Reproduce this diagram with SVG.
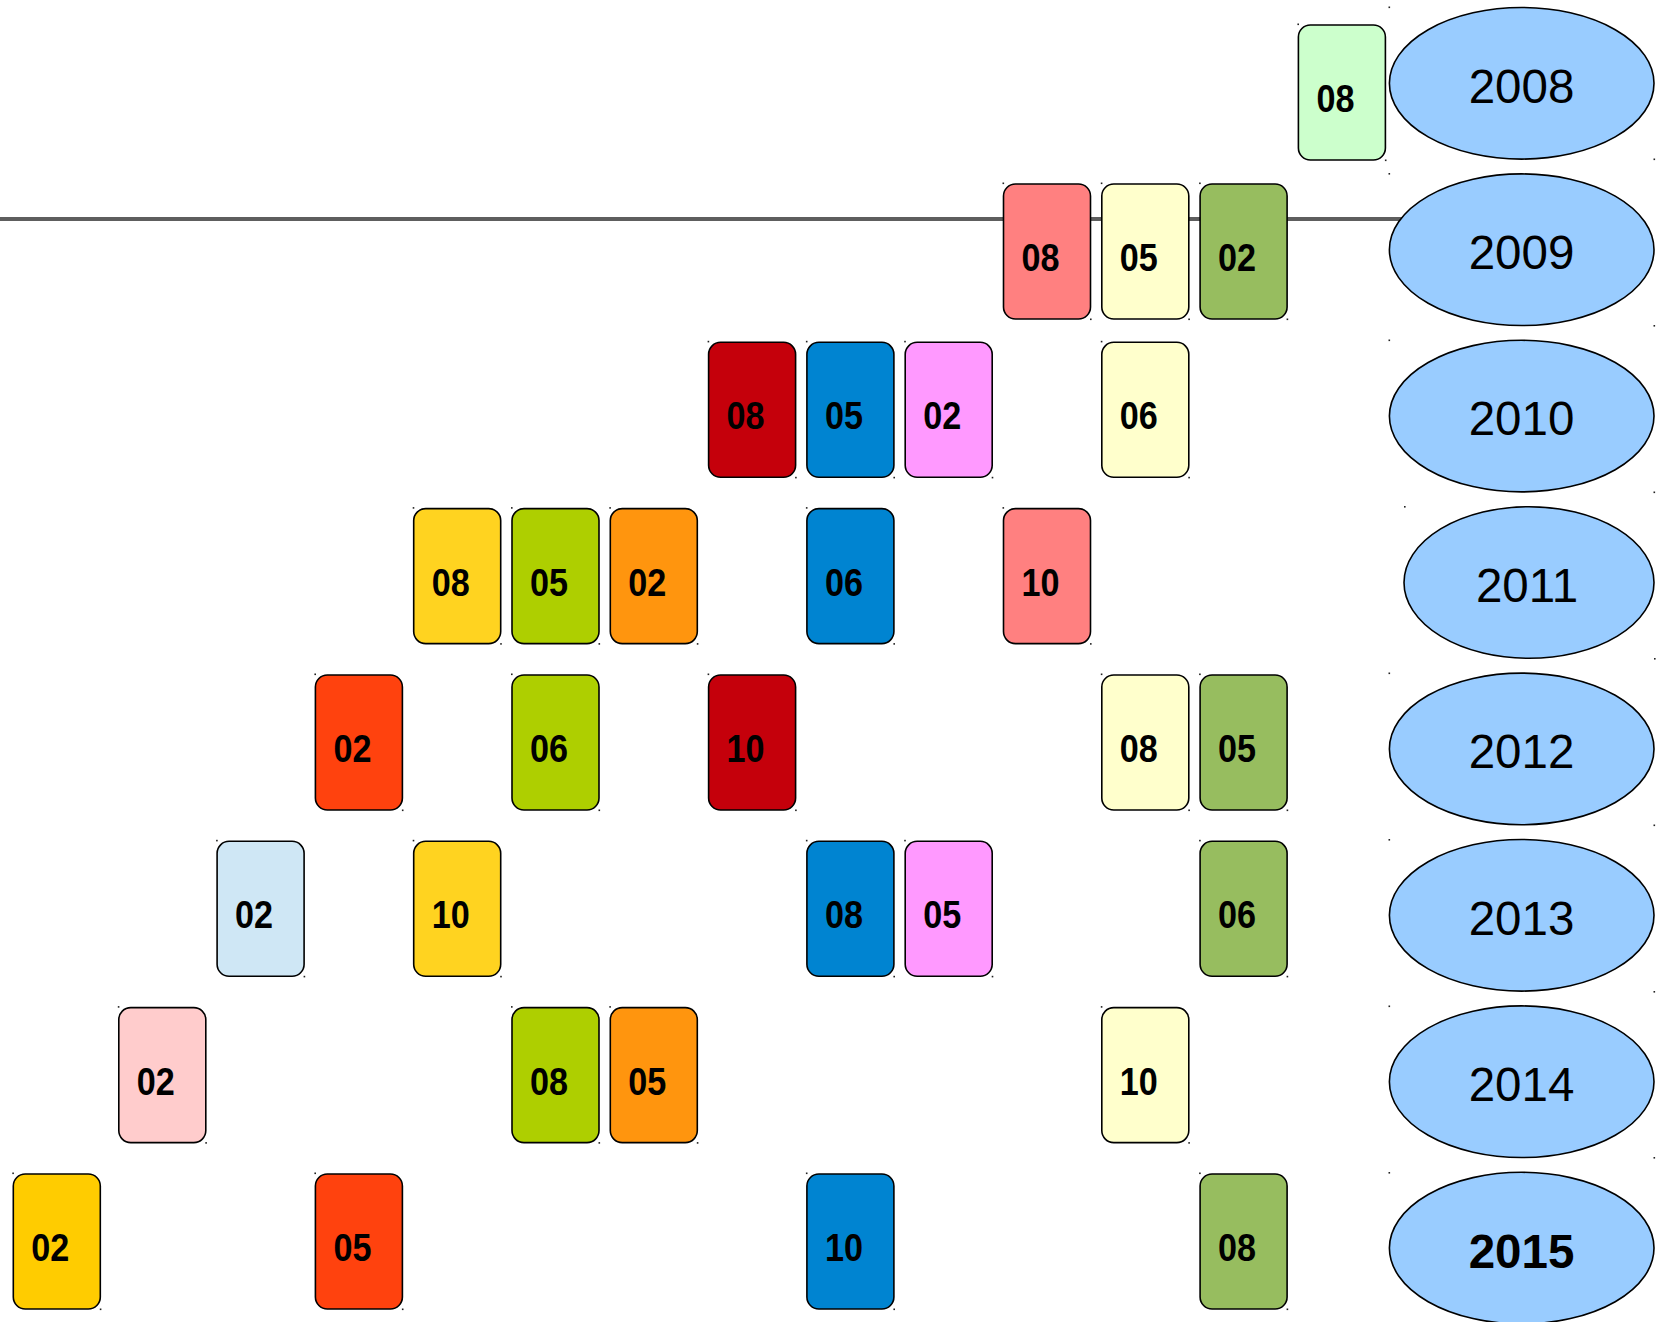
<svg xmlns="http://www.w3.org/2000/svg" width="1665" height="1322" viewBox="0 0 1665 1322">
<style>
.card{stroke:#000;stroke-width:1.6}
.lbl{font-family:"Liberation Sans",Arial,sans-serif;font-weight:bold;font-size:38.5px;text-anchor:middle;fill:#000}
.yr{fill:#99ccff;stroke:#000;stroke-width:1.6}
.ytxt{font-family:"Liberation Sans",Arial,sans-serif;font-size:47.5px;text-anchor:middle;fill:#000}
.dot{fill:#222}
.conn{stroke:#5e5e5e;stroke-width:3.8;fill:none}
.c1{fill:#ccffcc}.c2{fill:#ff8080}.c3{fill:#ffffcc}.c4{fill:#97bd5f}
.c5{fill:#c5000b}.c6{fill:#0084d1}.c7{fill:#ff99ff}.c8{fill:#ffd320}
.c9{fill:#aecf00}.c10{fill:#ff950e}.c11{fill:#ff420e}.c12{fill:#cfe7f5}
.c13{fill:#ffcccc}.c14{fill:#ffcc00}
</style>
<rect width="1665" height="1322" fill="#fff"/>
<g id="connectors">
<line class="conn" x1="0" y1="219" x2="1402" y2="219"/>
</g>

<g id="y2008"><ellipse class="yr" cx="1521.7" cy="83.3" rx="132.3" ry="75.8"/><text class="ytxt" x="1521.5" y="102.6">2008</text><rect class="dot" x="1388.5" y="6.5" width="1.6" height="1.6"/><rect class="dot" x="1653.5" y="158.5" width="1.6" height="1.6"/></g>
<g id="y2009"><ellipse class="yr" cx="1521.7" cy="249.7" rx="132.3" ry="75.8"/><text class="ytxt" x="1521.5" y="269">2009</text><rect class="dot" x="1388.5" y="173" width="1.6" height="1.6"/><rect class="dot" x="1653.5" y="325" width="1.6" height="1.6"/></g>
<g id="y2010"><ellipse class="yr" cx="1521.7" cy="416.1" rx="132.3" ry="75.8"/><text class="ytxt" x="1521.5" y="435.4">2010</text><rect class="dot" x="1388.5" y="339.5" width="1.6" height="1.6"/><rect class="dot" x="1653.5" y="491.5" width="1.6" height="1.6"/></g>
<g id="y2011"><ellipse class="yr" cx="1529" cy="582.5" rx="125" ry="75.8"/><text class="ytxt" x="1527" y="601.7">2011</text><rect class="dot" x="1404" y="506" width="1.6" height="1.6"/><rect class="dot" x="1654" y="658" width="1.6" height="1.6"/></g>
<g id="y2012"><ellipse class="yr" cx="1521.7" cy="748.9" rx="132.3" ry="75.8"/><text class="ytxt" x="1521.5" y="768.2">2012</text><rect class="dot" x="1388.5" y="672.5" width="1.6" height="1.6"/><rect class="dot" x="1653.5" y="824.5" width="1.6" height="1.6"/></g>
<g id="y2013"><ellipse class="yr" cx="1521.7" cy="915.3" rx="132.3" ry="75.8"/><text class="ytxt" x="1521.5" y="934.6">2013</text><rect class="dot" x="1388.5" y="839" width="1.6" height="1.6"/><rect class="dot" x="1653.5" y="991" width="1.6" height="1.6"/></g>
<g id="y2014"><ellipse class="yr" cx="1521.7" cy="1081.7" rx="132.3" ry="75.8"/><text class="ytxt" x="1521.5" y="1101">2014</text><rect class="dot" x="1388.5" y="1005.5" width="1.6" height="1.6"/><rect class="dot" x="1653.5" y="1157" width="1.6" height="1.6"/></g>
<g id="y2015"><ellipse class="yr" cx="1521.7" cy="1248.1" rx="132.3" ry="75.8"/><text class="ytxt" x="1521.5" y="1267.8" font-weight="bold">2015</text><rect class="dot" x="1388.5" y="1172" width="1.6" height="1.6"/></g>

<g id="r2008_08" transform="translate(1298.4,25)"><rect class="card c1" width="87" height="135" rx="12"/><text class="lbl" x="37" y="87" textLength="38" lengthAdjust="spacingAndGlyphs">08</text><rect class="dot" x="-1" y="-1.5" width="1.6" height="1.6"/><rect class="dot" x="86.5" y="134.5" width="1.6" height="1.6"/></g>

<g id="r2009_08" transform="translate(1003.5,184)"><rect class="card c2" width="87" height="135" rx="12"/><text class="lbl" x="37" y="87" textLength="38" lengthAdjust="spacingAndGlyphs">08</text><rect class="dot" x="-1" y="-1.5" width="1.6" height="1.6"/><rect class="dot" x="86.5" y="134.5" width="1.6" height="1.6"/></g>
<g id="r2009_05" transform="translate(1101.8,184)"><rect class="card c3" width="87" height="135" rx="12"/><text class="lbl" x="37" y="87" textLength="38" lengthAdjust="spacingAndGlyphs">05</text><rect class="dot" x="-1" y="-1.5" width="1.6" height="1.6"/><rect class="dot" x="86.5" y="134.5" width="1.6" height="1.6"/></g>
<g id="r2009_02" transform="translate(1200.1,184)"><rect class="card c4" width="87" height="135" rx="12"/><text class="lbl" x="37" y="87" textLength="38" lengthAdjust="spacingAndGlyphs">02</text><rect class="dot" x="-1" y="-1.5" width="1.6" height="1.6"/><rect class="dot" x="86.5" y="134.5" width="1.6" height="1.6"/></g>

<g id="r2010_08" transform="translate(708.6,342.3)"><rect class="card c5" width="87" height="135" rx="12"/><text class="lbl" x="37" y="87" textLength="38" lengthAdjust="spacingAndGlyphs">08</text><rect class="dot" x="-1" y="-1.5" width="1.6" height="1.6"/><rect class="dot" x="86.5" y="134.5" width="1.6" height="1.6"/></g>
<g id="r2010_05" transform="translate(806.9,342.3)"><rect class="card c6" width="87" height="135" rx="12"/><text class="lbl" x="37" y="87" textLength="38" lengthAdjust="spacingAndGlyphs">05</text><rect class="dot" x="-1" y="-1.5" width="1.6" height="1.6"/><rect class="dot" x="86.5" y="134.5" width="1.6" height="1.6"/></g>
<g id="r2010_02" transform="translate(905.2,342.3)"><rect class="card c7" width="87" height="135" rx="12"/><text class="lbl" x="37" y="87" textLength="38" lengthAdjust="spacingAndGlyphs">02</text><rect class="dot" x="-1" y="-1.5" width="1.6" height="1.6"/><rect class="dot" x="86.5" y="134.5" width="1.6" height="1.6"/></g>
<g id="r2010_06" transform="translate(1101.8,342.3)"><rect class="card c3" width="87" height="135" rx="12"/><text class="lbl" x="37" y="87" textLength="38" lengthAdjust="spacingAndGlyphs">06</text><rect class="dot" x="-1" y="-1.5" width="1.6" height="1.6"/><rect class="dot" x="86.5" y="134.5" width="1.6" height="1.6"/></g>

<g id="r2011_08" transform="translate(413.7,508.6)"><rect class="card c8" width="87" height="135" rx="12"/><text class="lbl" x="37" y="87" textLength="38" lengthAdjust="spacingAndGlyphs">08</text><rect class="dot" x="-1" y="-1.5" width="1.6" height="1.6"/><rect class="dot" x="86.5" y="134.5" width="1.6" height="1.6"/></g>
<g id="r2011_05" transform="translate(512,508.6)"><rect class="card c9" width="87" height="135" rx="12"/><text class="lbl" x="37" y="87" textLength="38" lengthAdjust="spacingAndGlyphs">05</text><rect class="dot" x="-1" y="-1.5" width="1.6" height="1.6"/><rect class="dot" x="86.5" y="134.5" width="1.6" height="1.6"/></g>
<g id="r2011_02" transform="translate(610.3,508.6)"><rect class="card c10" width="87" height="135" rx="12"/><text class="lbl" x="37" y="87" textLength="38" lengthAdjust="spacingAndGlyphs">02</text><rect class="dot" x="-1" y="-1.5" width="1.6" height="1.6"/><rect class="dot" x="86.5" y="134.5" width="1.6" height="1.6"/></g>
<g id="r2011_06" transform="translate(806.9,508.6)"><rect class="card c6" width="87" height="135" rx="12"/><text class="lbl" x="37" y="87" textLength="38" lengthAdjust="spacingAndGlyphs">06</text><rect class="dot" x="-1" y="-1.5" width="1.6" height="1.6"/><rect class="dot" x="86.5" y="134.5" width="1.6" height="1.6"/></g>
<g id="r2011_10" transform="translate(1003.5,508.6)"><rect class="card c2" width="87" height="135" rx="12"/><text class="lbl" x="37" y="87" textLength="38" lengthAdjust="spacingAndGlyphs">10</text><rect class="dot" x="-1" y="-1.5" width="1.6" height="1.6"/><rect class="dot" x="86.5" y="134.5" width="1.6" height="1.6"/></g>

<g id="r2012_02" transform="translate(315.4,675)"><rect class="card c11" width="87" height="135" rx="12"/><text class="lbl" x="37" y="87" textLength="38" lengthAdjust="spacingAndGlyphs">02</text><rect class="dot" x="-1" y="-1.5" width="1.6" height="1.6"/><rect class="dot" x="86.5" y="134.5" width="1.6" height="1.6"/></g>
<g id="r2012_06" transform="translate(512,675)"><rect class="card c9" width="87" height="135" rx="12"/><text class="lbl" x="37" y="87" textLength="38" lengthAdjust="spacingAndGlyphs">06</text><rect class="dot" x="-1" y="-1.5" width="1.6" height="1.6"/><rect class="dot" x="86.5" y="134.5" width="1.6" height="1.6"/></g>
<g id="r2012_10" transform="translate(708.6,675)"><rect class="card c5" width="87" height="135" rx="12"/><text class="lbl" x="37" y="87" textLength="38" lengthAdjust="spacingAndGlyphs">10</text><rect class="dot" x="-1" y="-1.5" width="1.6" height="1.6"/><rect class="dot" x="86.5" y="134.5" width="1.6" height="1.6"/></g>
<g id="r2012_08" transform="translate(1101.8,675)"><rect class="card c3" width="87" height="135" rx="12"/><text class="lbl" x="37" y="87" textLength="38" lengthAdjust="spacingAndGlyphs">08</text><rect class="dot" x="-1" y="-1.5" width="1.6" height="1.6"/><rect class="dot" x="86.5" y="134.5" width="1.6" height="1.6"/></g>
<g id="r2012_05" transform="translate(1200.1,675)"><rect class="card c4" width="87" height="135" rx="12"/><text class="lbl" x="37" y="87" textLength="38" lengthAdjust="spacingAndGlyphs">05</text><rect class="dot" x="-1" y="-1.5" width="1.6" height="1.6"/><rect class="dot" x="86.5" y="134.5" width="1.6" height="1.6"/></g>

<g id="r2013_02" transform="translate(217.1,841.3)"><rect class="card c12" width="87" height="135" rx="12"/><text class="lbl" x="37" y="87" textLength="38" lengthAdjust="spacingAndGlyphs">02</text><rect class="dot" x="-1" y="-1.5" width="1.6" height="1.6"/><rect class="dot" x="86.5" y="134.5" width="1.6" height="1.6"/></g>
<g id="r2013_10" transform="translate(413.7,841.3)"><rect class="card c8" width="87" height="135" rx="12"/><text class="lbl" x="37" y="87" textLength="38" lengthAdjust="spacingAndGlyphs">10</text><rect class="dot" x="-1" y="-1.5" width="1.6" height="1.6"/><rect class="dot" x="86.5" y="134.5" width="1.6" height="1.6"/></g>
<g id="r2013_08" transform="translate(806.9,841.3)"><rect class="card c6" width="87" height="135" rx="12"/><text class="lbl" x="37" y="87" textLength="38" lengthAdjust="spacingAndGlyphs">08</text><rect class="dot" x="-1" y="-1.5" width="1.6" height="1.6"/><rect class="dot" x="86.5" y="134.5" width="1.6" height="1.6"/></g>
<g id="r2013_05" transform="translate(905.2,841.3)"><rect class="card c7" width="87" height="135" rx="12"/><text class="lbl" x="37" y="87" textLength="38" lengthAdjust="spacingAndGlyphs">05</text><rect class="dot" x="-1" y="-1.5" width="1.6" height="1.6"/><rect class="dot" x="86.5" y="134.5" width="1.6" height="1.6"/></g>
<g id="r2013_06" transform="translate(1200.1,841.3)"><rect class="card c4" width="87" height="135" rx="12"/><text class="lbl" x="37" y="87" textLength="38" lengthAdjust="spacingAndGlyphs">06</text><rect class="dot" x="-1" y="-1.5" width="1.6" height="1.6"/><rect class="dot" x="86.5" y="134.5" width="1.6" height="1.6"/></g>

<g id="r2014_02" transform="translate(118.8,1007.6)"><rect class="card c13" width="87" height="135" rx="12"/><text class="lbl" x="37" y="87" textLength="38" lengthAdjust="spacingAndGlyphs">02</text><rect class="dot" x="-1" y="-1.5" width="1.6" height="1.6"/><rect class="dot" x="86.5" y="134.5" width="1.6" height="1.6"/></g>
<g id="r2014_08" transform="translate(512,1007.6)"><rect class="card c9" width="87" height="135" rx="12"/><text class="lbl" x="37" y="87" textLength="38" lengthAdjust="spacingAndGlyphs">08</text><rect class="dot" x="-1" y="-1.5" width="1.6" height="1.6"/><rect class="dot" x="86.5" y="134.5" width="1.6" height="1.6"/></g>
<g id="r2014_05" transform="translate(610.3,1007.6)"><rect class="card c10" width="87" height="135" rx="12"/><text class="lbl" x="37" y="87" textLength="38" lengthAdjust="spacingAndGlyphs">05</text><rect class="dot" x="-1" y="-1.5" width="1.6" height="1.6"/><rect class="dot" x="86.5" y="134.5" width="1.6" height="1.6"/></g>
<g id="r2014_10" transform="translate(1101.8,1007.6)"><rect class="card c3" width="87" height="135" rx="12"/><text class="lbl" x="37" y="87" textLength="38" lengthAdjust="spacingAndGlyphs">10</text><rect class="dot" x="-1" y="-1.5" width="1.6" height="1.6"/><rect class="dot" x="86.5" y="134.5" width="1.6" height="1.6"/></g>

<g id="r2015_02" transform="translate(13.3,1174)"><rect class="card c14" width="87" height="135" rx="12"/><text class="lbl" x="37" y="87" textLength="38" lengthAdjust="spacingAndGlyphs">02</text><rect class="dot" x="-1" y="-1.5" width="1.6" height="1.6"/><rect class="dot" x="86.5" y="134.5" width="1.6" height="1.6"/></g>
<g id="r2015_05" transform="translate(315.4,1174)"><rect class="card c11" width="87" height="135" rx="12"/><text class="lbl" x="37" y="87" textLength="38" lengthAdjust="spacingAndGlyphs">05</text><rect class="dot" x="-1" y="-1.5" width="1.6" height="1.6"/><rect class="dot" x="86.5" y="134.5" width="1.6" height="1.6"/></g>
<g id="r2015_10" transform="translate(806.9,1174)"><rect class="card c6" width="87" height="135" rx="12"/><text class="lbl" x="37" y="87" textLength="38" lengthAdjust="spacingAndGlyphs">10</text><rect class="dot" x="-1" y="-1.5" width="1.6" height="1.6"/><rect class="dot" x="86.5" y="134.5" width="1.6" height="1.6"/></g>
<g id="r2015_08" transform="translate(1200.1,1174)"><rect class="card c4" width="87" height="135" rx="12"/><text class="lbl" x="37" y="87" textLength="38" lengthAdjust="spacingAndGlyphs">08</text><rect class="dot" x="-1" y="-1.5" width="1.6" height="1.6"/><rect class="dot" x="86.5" y="134.5" width="1.6" height="1.6"/></g>
</svg>
